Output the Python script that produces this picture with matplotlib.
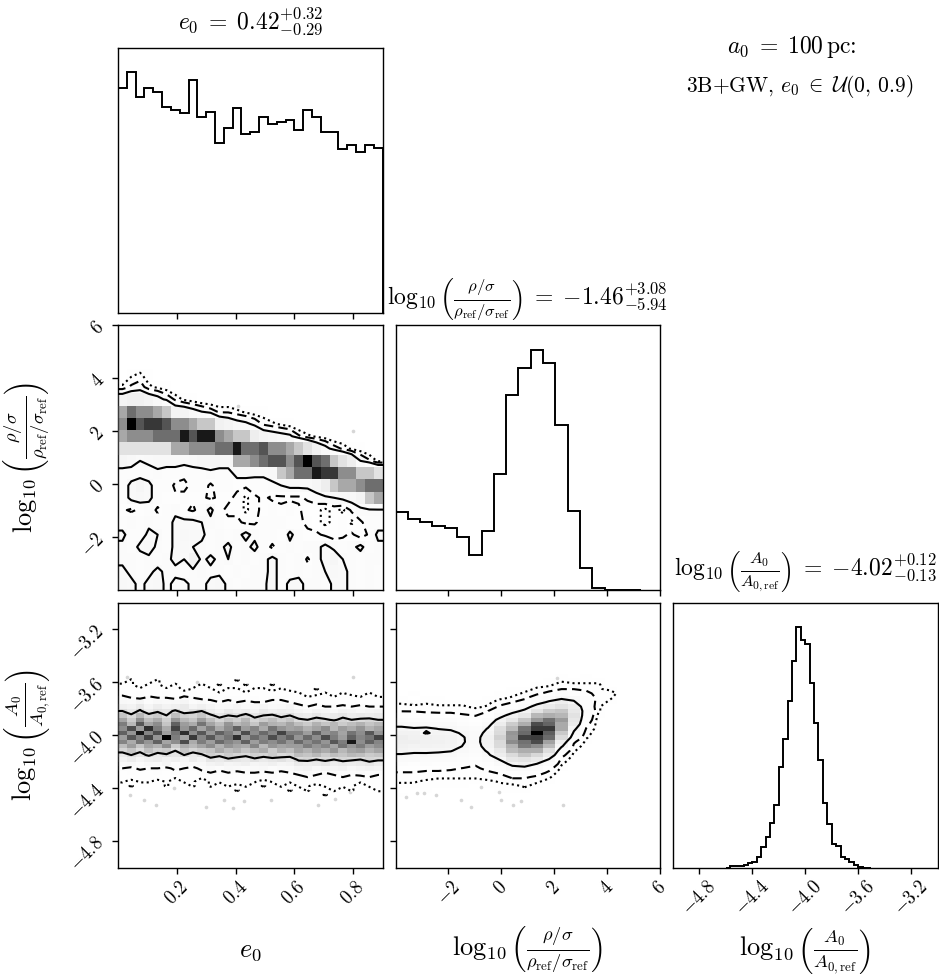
import numpy as np
import matplotlib
matplotlib.use("Agg")
import matplotlib.pyplot as plt
from matplotlib.colors import LinearSegmentedColormap
from matplotlib.ticker import FixedLocator, FuncFormatter, NullLocator

plt.rcParams["mathtext.fontset"] = "cm"
plt.rcParams["font.family"] = ["DejaVu Serif"]

# ---------------- 1D marginal histograms ----------------
E0_RANGE = (0.0, 0.9)
E0_COUNTS = [673, 722, 648, 675, 663, 617, 607, 599, 699, 587, 603, 510, 555, 613, 535,
             543, 588, 565, 573, 577, 547, 609, 587, 542, 542, 492, 503, 483, 503, 495]

RHO_RANGE = (-4.0, 5.3)
RHO_COUNTS = [230, 211, 203, 190, 183, 158, 103, 176, 345, 578, 658, 713, 673, 490, 233,
              65, 5, 0, 0, 0]

A_RANGE = (-4.6, -3.5)
A_COUNTS = [0, 1, 1, 1.5, 2.3, 4, 5, 10, 20, 30, 44, 62, 100, 128, 165, 205, 239, 226,
            222, 183, 144, 107, 64, 43, 23, 21, 10, 8, 5.7, 2.3, 0.7, 0, 0]

# ---------------- 2D histograms ----------------
# log rho (rows, top -> bottom, 20 bins over RHO_RANGE) vs e0 (30 bins over E0_RANGE)
RHO_VS_E0 = [
    [0] * 30,
    [0] * 30,
    [0, 2, 3, 1] + [0] * 26,
    [3, 5, 6, 3, 2, 1] + [0] * 24,
    [12, 14, 14, 12, 10, 7, 4, 2, 1] + [0] * 21,
    [35, 45, 40, 40, 35, 28, 12, 12, 10, 8, 6, 4, 4, 3, 2, 1, 1] + [0] * 13,
    [40, 60, 49, 53, 53, 49, 40, 40, 35, 28, 28, 14, 12, 10, 9, 7, 4, 3, 2, 1] + [0] * 10,
    [35, 40, 40, 40, 45, 45, 45, 57, 49, 57, 57, 40, 35, 28, 28, 15, 12, 11, 10, 9, 5, 3, 2, 1, 0, 0, 0, 0, 0, 0],
    [20, 20, 20, 20, 20, 20, 35, 35, 40, 40, 40, 45, 45, 57, 45, 45, 49, 40, 40, 35, 28, 20, 14, 10, 6, 4, 2, 1, 0, 0],
    [11, 10, 8, 9, 10, 10, 10, 9, 10, 11, 11, 11, 11, 35, 35, 40, 45, 49, 49, 40, 49, 60, 49, 45, 28, 20, 15, 8, 5, 2],
    [6, 6, 6, 6, 7, 6, 6, 6, 6, 6, 7, 6, 6, 10, 10, 9, 9, 10, 28, 35, 45, 45, 57, 53, 53, 40, 40, 28, 28, 20],
    [6, 9, 11, 9, 6, 6, 4, 3, 6, 6, 4, 6, 6, 5, 5, 6, 6, 7, 8, 9, 9, 9, 11, 15, 28, 35, 35, 40, 45, 45],
    [6, 9, 10, 9, 6, 5, 5, 6, 5, 5, 4, 5, 5, 4, 2, 4, 5, 4, 4, 4, 4, 5, 6, 7, 8, 9, 10, 12, 28, 35],
    [5, 4, 5, 6, 4, 6, 7, 5, 4, 6, 9, 5, 4, 4, 2, 4, 5, 6, 5, 6, 5, 3, 3, 2, 3, 2, 5, 7, 7, 7],
    [6, 7, 6, 7, 6, 6, 9, 9, 9, 8, 7, 6, 5, 5, 4, 4, 6, 6, 6, 5, 5, 4, 3, 2, 3, 4, 2, 4, 6, 6],
    [9, 6, 6, 9, 8, 6, 9, 10, 9, 9, 6, 7, 6, 7, 9, 7, 6, 6, 5, 9, 6, 5, 5, 4, 3, 4, 5, 3, 5, 9],
    [7, 6, 9, 10, 7, 6, 9, 9, 8, 7, 6, 7, 9, 6, 7, 9, 6, 4, 6, 7, 6, 7, 7, 9, 7, 6, 7, 9, 6, 7],
    [7, 7, 6, 7, 6, 7, 9, 8, 12, 7, 9, 7, 8, 6, 7, 6, 7, 9, 7, 6, 7, 4, 7, 9, 11, 8, 7, 6, 7, 7],
    [9, 7, 6, 7, 9, 7, 7, 6, 7, 8, 7, 7, 6, 7, 6, 7, 7, 9, 7, 6, 7, 6, 7, 8, 10, 9, 7, 6, 7, 6],
    [10, 9, 7, 9, 10, 7, 9, 9, 7, 7, 9, 10, 7, 6, 7, 7, 7, 10, 6, 9, 9, 7, 7, 6, 9, 9, 7, 6, 7, 6],
]

# log A (rows, top -> bottom, 33 bins over A_RANGE) vs e0 (30 bins)
A_VS_E0 = [
    [0] * 30,
    [0] * 30,
    [0, 1, 0, 0, 1, 0, 0, 0, 0, 0, 0, 0, 0, 1, 0, 0, 0, 0, 0, 0, 0, 0, 0, 0, 0, 0, 0, 0, 0, 0],
    [1, 1, 0, 1, 1, 0, 1, 0, 0, 1, 0, 1, 0, 0, 1, 0, 0, 1, 0, 0, 0, 0, 0, 0, 0, 0, 0, 0, 0, 0],
    [2, 1, 1, 2, 1, 1, 2, 0, 1, 2, 1, 0, 1, 1, 0, 1, 1, 0, 1, 0, 0, 0, 1, 0, 0, 0, 0, 0, 0, 0],
    [3, 2, 3, 2, 2, 3, 1, 2, 3, 2, 2, 1, 1, 2, 1, 2, 1, 2, 1, 2, 1, 0, 0, 1, 0, 1, 0, 0, 1, 0],
    [5, 4, 3, 5, 4, 4, 3, 5, 4, 3, 3, 2, 3, 3, 2, 3, 2, 3, 3, 2, 1, 1, 2, 1, 1, 1, 2, 1, 1, 1],
    [7, 6, 8, 5, 7, 6, 7, 8, 5, 6, 5, 4, 5, 4, 5, 4, 4, 5, 5, 4, 3, 2, 3, 2, 3, 2, 3, 2, 2, 3],
    [10, 9, 12, 8, 11, 9, 10, 12, 8, 10, 8, 6, 7, 8, 6, 7, 8, 6, 7, 8, 5, 4, 5, 4, 4, 5, 4, 5, 4, 4],
    [15, 12, 16, 11, 14, 13, 16, 12, 14, 15, 11, 9, 12, 10, 11, 9, 12, 10, 11, 10, 8, 7, 9, 8, 7, 9, 8, 7, 8, 9],
    [20, 16, 22, 17, 19, 15, 21, 18, 17, 20, 16, 13, 15, 14, 17, 13, 15, 16, 13, 15, 12, 11, 13, 11, 12, 13, 11, 12, 11, 12],
    [25, 19, 28, 21, 24, 18, 27, 22, 20, 26, 21, 17, 20, 18, 22, 17, 19, 21, 18, 20, 16, 15, 17, 16, 14, 17, 15, 16, 17, 15],
    [30, 22, 34, 25, 28, 20, 33, 26, 24, 31, 25, 21, 27, 22, 24, 20, 26, 23, 22, 25, 21, 19, 23, 20, 22, 19, 21, 23, 20, 22],
    [28, 35, 26, 38, 30, 24, 36, 27, 32, 25, 30, 24, 28, 33, 26, 29, 24, 31, 27, 25, 26, 23, 25, 28, 22, 26, 24, 27, 23, 25],
    [33, 27, 40, 29, 35, 26, 31, 38, 28, 34, 27, 33, 30, 26, 35, 28, 32, 29, 36, 30, 30, 26, 33, 27, 29, 25, 31, 28, 34, 27],
    [26, 34, 29, 36, 27, 42, 30, 25, 37, 29, 34, 28, 31, 38, 27, 32, 29, 35, 30, 33, 27, 32, 28, 35, 30, 26, 33, 29, 31, 36],
    [29, 24, 31, 27, 33, 25, 28, 35, 24, 30, 26, 32, 29, 27, 33, 26, 30, 28, 31, 27, 32, 28, 31, 27, 34, 30, 40, 28, 33, 29],
    [21, 26, 20, 25, 23, 28, 19, 24, 22, 25, 28, 23, 27, 25, 24, 29, 22, 27, 25, 26, 26, 30, 27, 29, 25, 31, 27, 30, 26, 28],
    [17, 20, 16, 21, 18, 19, 15, 20, 17, 19, 20, 24, 21, 23, 20, 22, 24, 19, 23, 21, 25, 23, 26, 24, 27, 22, 25, 26, 23, 25],
    [12, 15, 13, 16, 12, 14, 13, 15, 12, 14, 18, 16, 19, 17, 16, 18, 17, 19, 16, 17, 21, 20, 22, 19, 21, 20, 22, 21, 19, 20],
    [9, 11, 8, 10, 11, 9, 10, 8, 11, 9, 13, 12, 14, 13, 12, 14, 12, 13, 14, 12, 16, 17, 15, 16, 15, 17, 16, 15, 17, 16],
    [6, 7, 5, 7, 6, 8, 5, 7, 6, 7, 9, 10, 8, 9, 10, 8, 9, 10, 8, 9, 12, 11, 12, 13, 11, 12, 11, 12, 13, 11],
    [4, 3, 5, 4, 4, 3, 5, 4, 3, 5, 6, 5, 7, 6, 5, 6, 7, 5, 6, 6, 8, 9, 7, 8, 8, 9, 7, 8, 9, 8],
    [2, 3, 2, 2, 3, 1, 3, 2, 2, 3, 4, 3, 4, 3, 4, 4, 3, 4, 3, 4, 5, 6, 5, 4, 6, 5, 5, 6, 5, 5],
    [1, 2, 1, 1, 2, 1, 1, 2, 1, 1, 2, 2, 3, 2, 1, 2, 2, 3, 2, 2, 3, 4, 3, 3, 2, 4, 3, 3, 4, 3],
    [1, 0, 1, 1, 0, 1, 0, 1, 1, 0, 1, 1, 1, 2, 1, 1, 0, 1, 1, 1, 2, 1, 2, 2, 1, 2, 2, 1, 2, 2],
    [0, 1, 0, 0, 0, 1, 0, 0, 1, 0, 1, 0, 1, 0, 1, 0, 1, 0, 1, 0, 1, 1, 0, 1, 1, 1, 1, 0, 1, 1],
    [0] * 10 + [0, 0, 0, 1, 0, 0, 0, 0, 0, 1] + [0, 1, 0, 0, 1, 0, 1, 0, 0, 1],
    [0] * 23 + [1] + [0] * 6,
    [0] * 30,
    [0] * 30,
    [0] * 30,
    [0] * 30,
]

# log A vs log rho: one list per log-rho bin (20 bins), each top -> bottom (33 log A bins)
A_VS_RHO_COLS = [
    [0, 0, 0, 0, 0, 0, 1, 1, 3, 5, 8, 13, 17, 23, 26, 30, 29, 27, 25, 19, 16, 11, 7, 5, 3, 2, 1, 0, 1, 0, 0, 0, 0],
    [0, 0, 0, 0, 0, 1, 0, 1, 2, 5, 7, 11, 17, 21, 26, 27, 29, 25, 23, 18, 15, 10, 7, 5, 2, 2, 1, 0, 0, 0, 0, 0, 0],
    [0, 0, 0, 0, 0, 0, 1, 1, 3, 4, 8, 12, 16, 22, 19, 28, 27, 26, 22, 19, 14, 11, 7, 4, 3, 1, 1, 1, 0, 0, 0, 0, 0],
    [0, 0, 0, 0, 0, 0, 1, 1, 2, 4, 7, 11, 16, 20, 24, 26, 27, 25, 22, 18, 14, 10, 7, 4, 2, 1, 1, 0, 0, 0, 0, 0, 0],
    [0, 0, 0, 0, 0, 0, 0, 1, 2, 4, 7, 11, 15, 19, 23, 25, 25, 24, 21, 17, 13, 9, 6, 4, 2, 1, 1, 0, 0, 0, 0, 0, 0],
    [0, 0, 0, 0, 0, 0, 0, 1, 2, 3, 6, 9, 12, 16, 19, 21, 21, 20, 17, 14, 11, 8, 5, 3, 2, 1, 1, 0, 0, 0, 0, 0, 0],
    [0, 0, 0, 0, 0, 0, 0, 1, 1, 3, 5, 7, 10, 13, 15, 16, 17, 16, 14, 11, 9, 6, 4, 3, 2, 1, 0, 0, 0, 0, 0, 0, 0],
    [0, 0, 0, 0, 0, 0, 1, 1, 2, 5, 7, 11, 16, 21, 24, 27, 26, 25, 22, 18, 14, 10, 7, 4, 3, 1, 1, 0, 0, 0, 0, 0, 0],
    [0, 0, 0, 0, 0, 1, 1, 3, 6, 11, 15, 25, 31, 42, 44, 50, 45, 44, 35, 30, 21, 16, 10, 6, 3, 2, 1, 1, 0, 0, 0, 0, 0],
    [0, 0, 0, 0, 1, 1, 2, 5, 10, 15, 27, 36, 53, 61, 76, 74, 79, 65, 60, 44, 36, 23, 17, 9, 6, 3, 1, 1, 0, 0, 0, 0, 0],
    [0, 0, 0, 0, 1, 2, 4, 8, 13, 24, 35, 55, 66, 87, 90, 102, 88, 85, 66, 56, 38, 28, 16, 11, 6, 3, 2, 1, 0, 0, 0, 0, 0],
    [0, 0, 0, 1, 2, 4, 9, 14, 27, 39, 62, 75, 99, 104, 118, 103, 99, 79, 66, 46, 34, 20, 13, 8, 4, 2, 1, 0, 0, 0, 0, 0, 0],
    [0, 0, 1, 1, 3, 7, 12, 23, 33, 53, 66, 88, 92, 104, 94, 90, 71, 61, 42, 31, 19, 13, 7, 4, 2, 1, 0, 0, 0, 0, 0, 0, 0],
    [0, 1, 1, 3, 5, 11, 17, 30, 39, 56, 63, 74, 68, 68, 54, 45, 30, 22, 12, 7, 4, 2, 1, 0, 0, 0, 0, 0, 0, 0, 0, 0, 0],
    [0, 0, 1, 2, 5, 10, 17, 22, 32, 35, 40, 36, 33, 24, 18, 12, 6, 4, 2, 1] + [0] * 13,
    [0, 1, 1, 2, 4, 7, 9, 11, 12, 14, 11, 10, 7, 5, 3, 2, 1] + [0] * 16,
    [0, 0, 1, 2, 2, 3, 4, 3, 2, 2, 1] + [0] * 22,
    [0, 0, 0, 0, 1, 3, 2, 1] + [0] * 25,
    [0] * 33,
    [0] * 33,
]

# contour thresholds (dotted, dashed, solid) per panel
LEVELS_RHO_E0 = [2.5, 4.5, 8.0]
LEVELS_A_E0 = [0.8, 4.0, 15.0]
LEVELS_A_RHO = [1.7, 5.2, 20.4]

# scattered samples outside the outer contour
PTS_RHO_E0_X = [0.41, 0.80]
PTS_RHO_E0_Y = [2.95, 2.02]
PTS_A_E0_X = [0.03, 0.80, 0.27, 0.09, 0.13, 0.30, 0.36, 0.39, 0.43, 0.52, 0.68, 0.74, 0.79, 0.04, 0.19]
PTS_A_E0_Y = [-3.56, -3.56, -3.60, -4.49, -4.53, -4.54, -4.49, -4.55, -4.50, -4.49, -4.53, -4.48, -4.43, -4.45, -4.40]
PTS_A_RHO_X = [2.1, -3.43, -3.62, -3.17, -2.92, -2.48, -1.52, -1.14, -0.76, -0.07, 0.0, 0.44, 0.76, 2.35]
PTS_A_RHO_Y = [-3.57, -3.76, -4.47, -4.44, -4.44, -4.45, -4.49, -4.54, -4.39, -4.43, -4.49, -4.53, -4.50, -4.53]

# text
TITLES = [r"$e_0 \;=\; 0.42^{+0.32}_{-0.29}$",
          r"$\log_{10}\left(\frac{\rho/\sigma}{\rho_{\mathrm{ref}}/\sigma_{\mathrm{ref}}}\right) \;=\; {-1.46}^{+3.08}_{-5.94}$",
          r"$\log_{10}\left(\frac{A_0}{A_{0,\mathrm{ref}}}\right) \;=\; {-4.02}^{+0.12}_{-0.13}$"]
LABELS = [r"$e_0$",
          r"$\log_{10}\left(\frac{\rho/\sigma}{\rho_{\mathrm{ref}}/\sigma_{\mathrm{ref}}}\right)$",
          r"$\log_{10}\left(\frac{A_0}{A_{0,\mathrm{ref}}}\right)$"]
LIMITS = [(0.0, 0.9), (-4.0, 6.0), (-5.0, -3.0)]
TICKS = [[0.2, 0.4, 0.6, 0.8], [-2, 0, 2, 4, 6], [-4.8, -4.4, -4.0, -3.6, -3.2]]
TICKFMT = ["{:.1f}", "{:.0f}", "{:.1f}"]
HEADER1 = r"$a_0 \;=\; 100\,\mathrm{pc}$:"
HEADER2 = r"3B+GW, $e_0 \;\in\; \mathcal{U}(0,\, 0.9)$"

# ---------------- figure ----------------
W, H = 939, 976
fig = plt.figure(figsize=(W / 100, H / 100), dpi=100)
LEFTS = [118, 395.5, 673]
TOPS = [48, 325.5, 603]
SIZE = 264.5

DENS_CMAP = LinearSegmentedColormap.from_list("dens", [(1, 1, 1, 0), (0, 0, 0, 1)])
LSTYLES = [(0, (1, 1.6)), (0, (4.5, 2.5)), "solid"]


def add_ax(i, j):
    return fig.add_axes([LEFTS[j] / W, (H - TOPS[i] - SIZE) / H, SIZE / W, SIZE / H])


def hist1d(ax, counts, rng):
    counts = np.asarray(counts, float)
    edges = np.linspace(rng[0], rng[1], len(counts) + 1)
    centers = 0.5 * (edges[1:] + edges[:-1])
    ax.hist(centers, bins=edges, weights=counts, histtype="step", color="k", lw=1.4)
    ax.set_ylim(0, 1.1 * counts.max())


def hist2d(ax, grid_top_down, xr, yr, levels, px, py):
    Hyx = np.asarray(grid_top_down, float)[::-1]
    ny, nx = Hyx.shape
    xe = np.linspace(xr[0], xr[1], nx + 1)
    ye = np.linspace(yr[0], yr[1], ny + 1)
    ax.plot(px, py, "o", ms=2.6, color="0.84", mec="none", zorder=1)
    Hxy = Hyx.T
    X1 = 0.5 * (xe[1:] + xe[:-1])
    Y1 = 0.5 * (ye[1:] + ye[:-1])
    H2 = Hxy.min() + np.zeros((nx + 4, ny + 4))
    H2[2:-2, 2:-2] = Hxy
    H2[2:-2, 1] = Hxy[:, 0]
    H2[2:-2, -2] = Hxy[:, -1]
    H2[1, 2:-2] = Hxy[0]
    H2[-2, 2:-2] = Hxy[-1]
    H2[1, 1] = Hxy[0, 0]
    H2[1, -2] = Hxy[0, -1]
    H2[-2, 1] = Hxy[-1, 0]
    H2[-2, -2] = Hxy[-1, -1]
    dx = X1[1] - X1[0]
    dy = Y1[1] - Y1[0]
    X2 = np.concatenate([X1[0] + np.array([-2, -1]) * dx, X1, X1[-1] + np.array([1, 2]) * dx])
    Y2 = np.concatenate([Y1[0] + np.array([-2, -1]) * dy, Y1, Y1[-1] + np.array([1, 2]) * dy])
    ax.contourf(X2, Y2, H2.T, [levels[0], Hxy.max() * 10], colors=["white"],
                antialiased=False, zorder=2)
    ax.pcolormesh(xe, ye, Hyx, cmap=DENS_CMAP, vmin=0, vmax=Hyx.max(), zorder=3)
    ax.contour(X2, Y2, H2.T, levels, colors="k", linestyles=LSTYLES, linewidths=1.5, zorder=4)


def fmt(f):
    return FuncFormatter(lambda v, p: "$" + f.format(v) + "$")


axes = {}
for i in range(3):
    for j in range(i + 1):
        axes[(i, j)] = add_ax(i, j)

hist1d(axes[(0, 0)], E0_COUNTS, E0_RANGE)
hist1d(axes[(1, 1)], RHO_COUNTS, RHO_RANGE)
hist1d(axes[(2, 2)], A_COUNTS, A_RANGE)

A_VS_RHO_ROWS = np.asarray(A_VS_RHO_COLS).T
hist2d(axes[(1, 0)], RHO_VS_E0, E0_RANGE, RHO_RANGE, LEVELS_RHO_E0, PTS_RHO_E0_X, PTS_RHO_E0_Y)
hist2d(axes[(2, 0)], A_VS_E0, E0_RANGE, A_RANGE, LEVELS_A_E0, PTS_A_E0_X, PTS_A_E0_Y)
hist2d(axes[(2, 1)], A_VS_RHO_ROWS, RHO_RANGE, A_RANGE, LEVELS_A_RHO, PTS_A_RHO_X, PTS_A_RHO_Y)

for (i, j), ax in axes.items():
    ax.set_xlim(*LIMITS[j])
    ax.xaxis.set_major_locator(FixedLocator(TICKS[j]))
    ax.xaxis.set_major_formatter(fmt(TICKFMT[j]))
    ax.tick_params(direction="out", length=4, width=1.0, labelsize=13.5)
    for s in ax.spines.values():
        s.set_linewidth(1.0)
    if i == j:
        ax.yaxis.set_major_locator(NullLocator())
    else:
        ax.set_ylim(*LIMITS[i])
        ax.yaxis.set_major_locator(FixedLocator(TICKS[i]))
        ax.yaxis.set_major_formatter(fmt(TICKFMT[i]))
    if i < 2:
        ax.tick_params(axis="x", labelbottom=False)
    else:
        ax.tick_params(axis="x", labelrotation=45)
        ax.set_xlabel(LABELS[j], fontsize=19, va="baseline")
        ax.xaxis.set_label_coords(0.5, -0.335)
    if j > 0 and i != j:
        ax.tick_params(axis="y", labelleft=False)
    if j == 0 and i > 0:
        ax.tick_params(axis="y", labelrotation=45)
        ax.set_ylabel(LABELS[i], fontsize=19)
        ax.yaxis.set_label_coords(-0.25, 0.5)

axes[(0, 0)].set_title(TITLES[0], fontsize=17, pad=14)
axes[(1, 1)].set_title(TITLES[1], fontsize=17, pad=15)
axes[(2, 2)].set_title(TITLES[2], fontsize=17, pad=19)

fig.text(792 / W, 1 - 47 / H, HEADER1, fontsize=17, ha="center", va="center", family="cmr10")
fig.text(800 / W, 1 - 86 / H, HEADER2, fontsize=15.5, ha="center", va="center", family="cmr10")

fig.savefig("out.png", dpi=100)
